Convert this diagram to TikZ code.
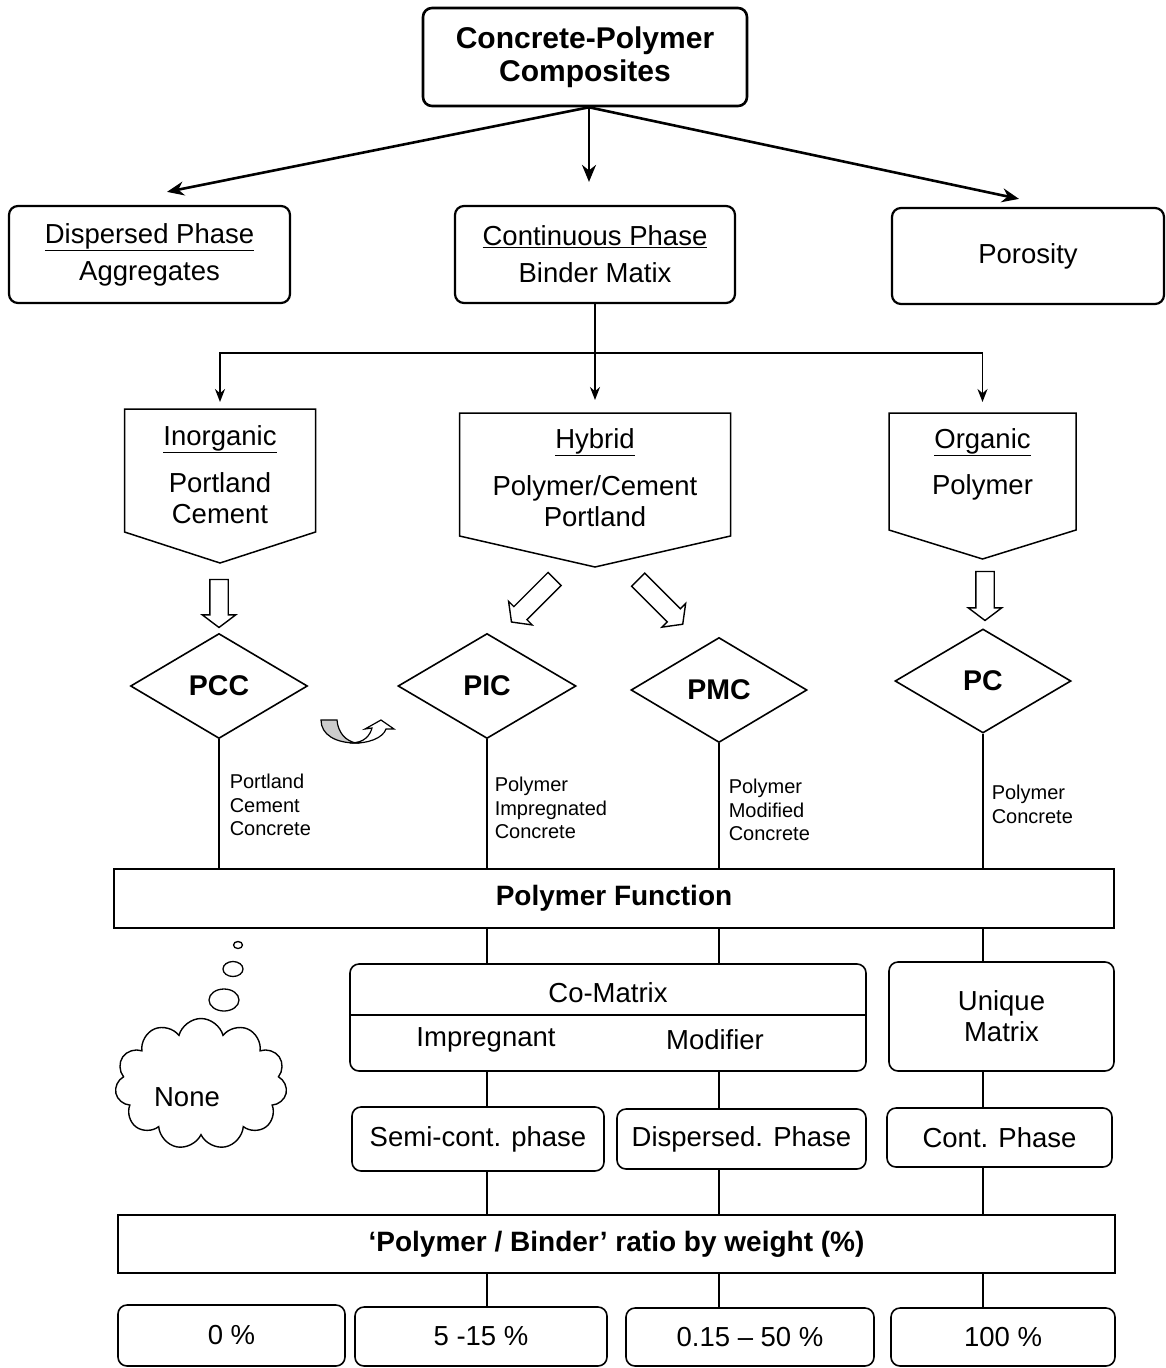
\documentclass[tikz,border=0pt]{standalone}
\usepackage{fontspec}
\setmainfont{Liberation Sans}
\usetikzlibrary{arrows.meta,shapes.geometric,shapes.symbols,shapes.arrows}
\tikzset{
  rbox/.style={draw,rounded corners=9pt,line width=1.6pt,align=center,inner sep=0pt,font=\fontsize{27.5}{37}\selectfont},
  sbox/.style={draw,line width=2pt,align=center,inner sep=0pt,font=\bfseries\fontsize{28}{33}\selectfont},
  txt/.style={align=center,inner sep=0pt,font=\fontsize{27.5}{31}\selectfont},
  small/.style={align=left,inner sep=0pt,anchor=west,font=\fontsize{20}{23.5}\selectfont},
  arr/.style={-{Stealth[length=17pt,width=14pt]},line width=2.6pt},
  darr/.style={-{Stealth[length=13pt,width=10pt]},line width=1.8pt},
  hollow/.style={single arrow,draw,line width=1.4pt,inner sep=8.5pt,single arrow head extend=7.5pt,single arrow tip angle=106,single arrow head indent=0pt},
  dia/.style={diamond,draw,line width=1.6pt,inner sep=0pt,font=\bfseries\fontsize{28.5}{33}\selectfont}
}
\begin{document}
\begin{tikzpicture}[x=1pt,y=-1pt,line width=1.5pt]
\useasboundingbox (0,0) rectangle (1165,1368);
% top box and first row
\node[rbox,line width=2.6pt,minimum width=324pt,minimum height=98pt,font=\bfseries\fontsize{30}{33}\selectfont] (cpc) at (585,57) {Concrete-Polymer\\Composites};
\node[rbox,line width=2.2pt,minimum width=281pt,minimum height=97pt] (disp) at (149.5,254.5) {\underline{Dispersed Phase}\\Aggregates};
\node[rbox,line width=2.2pt,minimum width=280pt,minimum height=97pt] (cont) at (595,254.5) {\underline{Continuous Phase}\\Binder Matix};
\node[rbox,line width=2.2pt,minimum width=272pt,minimum height=96pt] (poro) at (1028,256) {Porosity};
\coordinate (foot) at ([xshift=4pt]cpc.south);
\draw[arr] (foot) -- ([xshift=17.5pt,yshift=13pt]disp.north);
\draw[arr] (foot) -- ([xshift=-6pt,yshift=23pt]cont.north);
\draw[arr] (foot) -- ([xshift=-9pt,yshift=8pt]poro.north);
% pentagons: centre/half width/top/side/tip/name
\foreach \cx/\hw/\top/\side/\tip/\nm in {220/95.5/409/532/563/inorg,595/135.5/413/536/567/hyb,982.5/93.5/413/530/559/org}{
  \draw (\cx-\hw,\top) -- (\cx+\hw,\top) -- (\cx+\hw,\side) -- (\cx,\tip) -- (\cx-\hw,\side) -- cycle;
  \coordinate (\nm-n) at (\cx,\top);
  \coordinate (\nm-s) at (\cx,\tip);
}
\draw[darr] (cont.south) -- ([yshift=13pt]hyb-n);
\draw[darr] (cont.south |- 0,353) -| ([yshift=7pt]inorg-n);
\draw[darr] (cont.south |- 0,353) -| ([yshift=11pt]org-n);
\node[txt] (inorg) at (220,439) {\underline{Inorganic}};
\node[txt] (inorgtxt) at (220,498.5) {Portland\\Cement};
\node[txt] (hyb) at (595,442) {\underline{Hybrid}};
\node[txt] (hybtxt) at (595,501.5) {Polymer/Cement\\Portland};
\node[txt] (org) at (982.5,442) {\underline{Organic}};
\node[txt] (orgtxt) at (982.5,487) {Polymer};
% hollow arrows
\node[hollow,rotate=-90,minimum height=48pt] (inarr) at (219,600) {};
\node[hollow,rotate=-135,minimum height=61pt] (hlarr) at (535.5,598) {};
\node[hollow,rotate=-45,minimum height=63pt] (hrarr) at (658,599.5) {};
\node[hollow,rotate=-90,minimum height=49pt] (orarr) at (985,592.5) {};
% diamonds
\node[dia,minimum width=177pt,minimum height=105pt] (pcc) at (219,686) {PCC};
\node[dia,minimum width=178pt,minimum height=105pt] (pic) at (487,686) {PIC};
\node[dia,minimum width=176pt,minimum height=105pt] (pmc) at (719,690) {PMC};
\node[dia,minimum width=176pt,minimum height=104pt] (pc) at (983,681) {PC};
% curved arrow
\draw[fill=gray!40,line width=1.2pt] (321,720) -- (337,720) .. controls (338,733) and (346,741) .. (356,743) .. controls (336,743) and (321,735) .. (321,720) -- cycle;
\draw[fill=white,line width=1.2pt] (350,743) .. controls (365,743) and (370,735) .. (372,728) -- (365,729) -- (381,720) -- (394,729) -- (386,729) .. controls (383,738) and (368,744) .. (350,743) -- cycle;
% labels under the diamonds
\node[small] (pcclbl) at (229,805) {Portland\\Cement\\Concrete};
\node[small] (piclbl) at (494,808) {Polymer\\Impregnated\\Concrete};
\node[small] (pmclbl) at (728,810) {Polymer\\Modified\\Concrete};
\node[small] (pclbl) at (991,804.5) {Polymer\\Concrete};
\node[sbox,minimum width=1000pt,minimum height=59pt] (pf) at (614,898.5) {Polymer Function};
\foreach \d in {pcc,pic,pmc,pc}
  \draw (\d.south) -- (\d.south |- pf.north);
% co-matrix and unique matrix
\node[rbox,minimum width=516pt,minimum height=107pt] (comat) at (608,1017.5) {};
\draw (comat.west |- 0,1015) -- (comat.east |- 0,1015);
\node[txt] (comtitle) at (608,993) {Co-Matrix};
\node[txt] (impreg) at (486,1040) {Impregnant};
\node[txt] (modif) at (715,1040) {Modifier};
\node[rbox,minimum width=225pt,minimum height=109pt,font=\fontsize{27.5}{31}\selectfont] (uniq) at (1001.5,1016.5) {Unique\\Matrix};
\foreach \d in {pic,pmc}
  \draw (\d.south |- pf.south) -- (\d.south |- comat.north);
\draw (pc.south |- pf.south) -- (pc.south |- uniq.north);
% thought bubbles
\draw[line width=1.3pt] (238,945) ellipse [x radius=4.5pt,y radius=3.5pt];
\draw[line width=1.3pt] (233,969) ellipse [x radius=10pt,y radius=7.5pt];
\draw[line width=1.3pt] (224,1000) ellipse [x radius=15pt,y radius=11pt];
\node[cloud,draw,line width=1.4pt,cloud puffs=11,cloud ignores aspect,minimum width=172pt,minimum height=131pt] (cloud) at (201,1084) {};
\node[txt] (none) at (187,1097) {None};
% phases
\node[rbox,minimum width=252pt,minimum height=64pt] (semi) at (478,1139) {Semi-cont. phase};
\node[rbox,minimum width=249pt,minimum height=60pt] (dispph) at (741.5,1139) {Dispersed. Phase};
\node[rbox,minimum width=225pt,minimum height=59pt] (contph) at (999.5,1137.5) {Cont. Phase};
\draw (pic.south |- comat.south) -- (pic.south |- semi.north);
\draw (pmc.south |- comat.south) -- (pmc.south |- dispph.north);
\draw (pc.south |- uniq.south) -- (pc.south |- contph.north);
% ratio row
\node[sbox,minimum width=997pt,minimum height=58pt] (ratio) at (616.5,1244) {‘Polymer / Binder’ ratio by weight (\%)};
\foreach \d/\b in {pic/semi,pmc/dispph,pc/contph}
  \draw (\d.south |- \b.south) -- (\d.south |- ratio.north);
\node[rbox,minimum width=227pt,minimum height=61pt] (r0) at (231.5,1335.5) {0 \%};
\node[rbox,minimum width=252pt,minimum height=59pt] (r5) at (481,1336.5) {5 -15 \%};
\node[rbox,minimum width=248pt,minimum height=58pt] (r15) at (750,1337) {0.15 – 50 \%};
\node[rbox,minimum width=224pt,minimum height=58pt] (r100) at (1003,1337) {100 \%};
\foreach \d/\b in {pic/r5,pmc/r15,pc/r100}
  \draw (\d.south |- ratio.south) -- (\d.south |- \b.north);
\end{tikzpicture}
\end{document}
